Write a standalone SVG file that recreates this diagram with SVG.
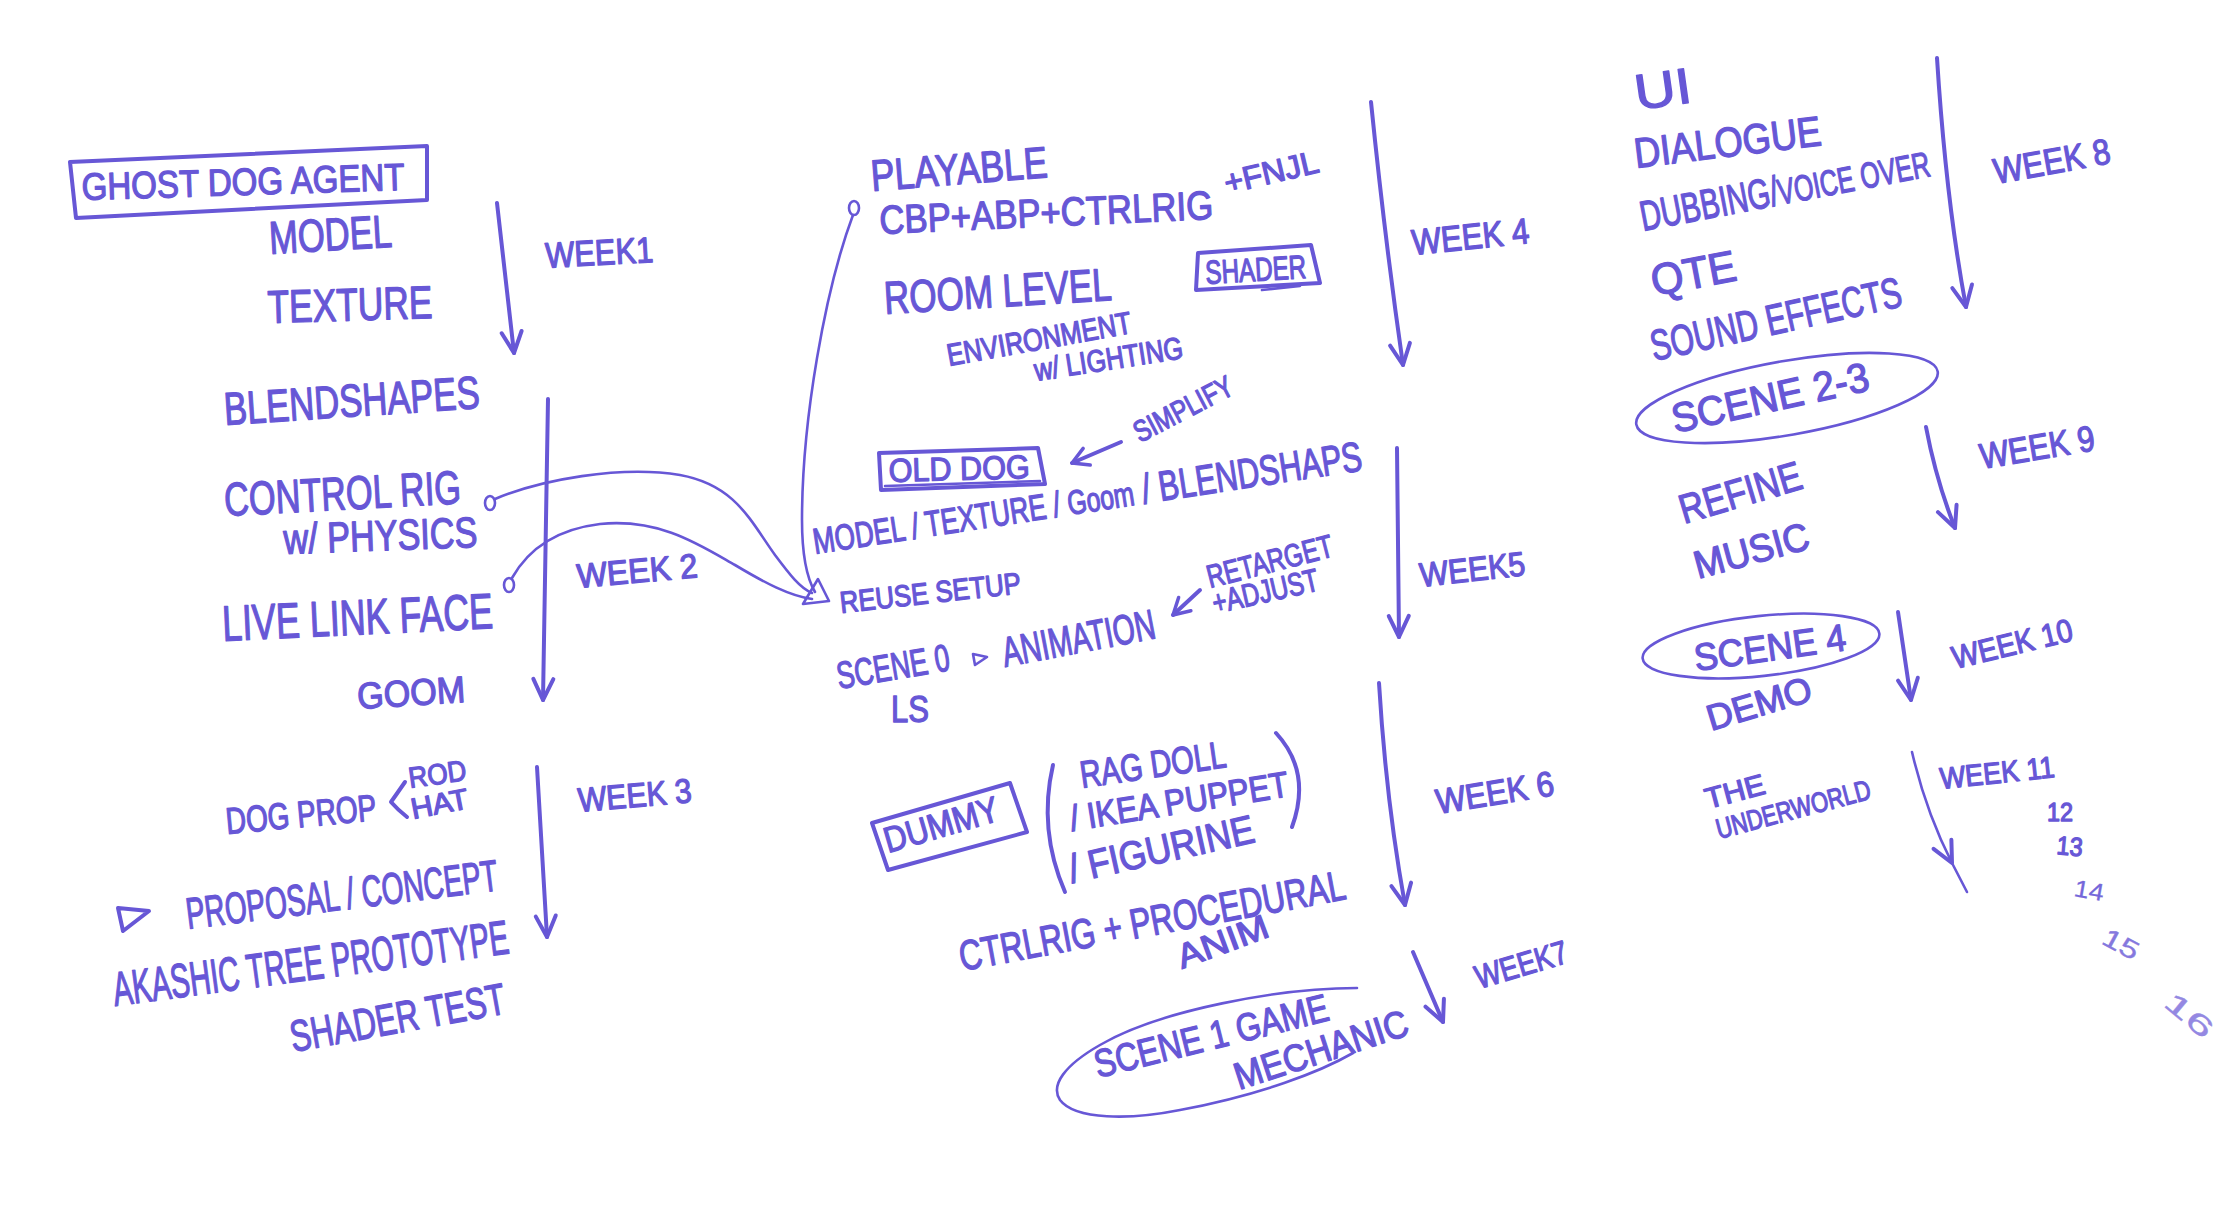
<svg xmlns="http://www.w3.org/2000/svg" width="2232" height="1209" viewBox="0 0 2232 1209">
<style>
text{font-family:"Liberation Sans","DejaVu Sans",Arial,sans-serif;fill:#6757d6;stroke:#6757d6;stroke-width:1.3;stroke-linejoin:round;}
text.lt{stroke-width:0.3}
.ln{fill:none;stroke:#6757d6;stroke-width:4;stroke-linecap:round;stroke-linejoin:round}
.th{stroke-width:2.6}
.ar{marker-end:url(#ah)}
.as{marker-end:url(#ahs)}
</style>
<defs>
<marker id="ah" markerUnits="userSpaceOnUse" viewBox="-26 -16 30 32" refX="0" refY="0" markerWidth="30" markerHeight="32" orient="auto"><path d="M-21,-10 L0,0 L-21,10" fill="none" stroke="#6757d6" stroke-width="4" stroke-linecap="round" stroke-linejoin="round"/></marker>
<marker id="ahs" markerUnits="userSpaceOnUse" viewBox="-20 -12 24 24" refX="0" refY="0" markerWidth="24" markerHeight="24" orient="auto"><path d="M-16,-9 L0,0 L-16,9" fill="none" stroke="#6757d6" stroke-width="3.5" stroke-linecap="round" stroke-linejoin="round"/></marker>
</defs>
<rect width="2232" height="1209" fill="#ffffff"/>

<g id="connectors">
<path class="ln ar" d="M497,203 L514,353"/>
<path class="ln ar" d="M548,399 L543,700"/>
<path class="ln ar" d="M537,767 L547,937"/>
<path class="ln ar" d="M1371,102 Q1385,240 1403,365"/>
<path class="ln ar" d="M1397,448 L1399,637"/>
<path class="ln ar" d="M1379,683 Q1386,800 1405,905"/>
<path class="ln ar" d="M1413,952 L1443,1022"/>
<path class="ln ar" d="M1937,58 Q1946,200 1966,307"/>
<path class="ln ar" d="M1926,427 Q1936,480 1955,528"/>
<path class="ln ar" d="M1898,612 L1911,700"/>
<path class="ln ar th" d="M1912,752 Q1926,812 1952,863"/>
<path class="ln th" d="M1952,863 L1967,892"/>
<path class="ln as" d="M1121,442 L1072,463"/>
<path class="ln as" d="M1200,590 L1173,615"/>
<path class="ln th" d="M495,499 C540,480 620,465 680,475 C735,485 750,520 775,555 C790,575 800,588 812,593"/>
<path class="ln th" d="M512,578 C525,555 550,530 600,524 C660,518 700,545 735,565 C765,583 790,596 812,599"/>
<path class="ln th" d="M853,215 C825,290 802,420 802,520 C802,560 808,580 815,592"/>
<polygon class="ln th" points="818,579 829,601 803,604" fill="#6757d6" fill-opacity="0.35"/>
<ellipse class="ln th" cx="490" cy="503" rx="5" ry="7"/>
<ellipse class="ln th" cx="509" cy="585" rx="5" ry="7"/>
<ellipse class="ln th" cx="854" cy="208" rx="5" ry="7"/>
</g>

<g id="ghost-dog-agent">
<polygon class="ln" points="70,162 427,146 427,200 76,218"/>
<text x="82" y="200" transform="rotate(-1.8 82 200)" font-size="38" textLength="323" lengthAdjust="spacingAndGlyphs">GHOST DOG AGENT</text>
</g>
<g id="model"><text x="270" y="254" transform="rotate(-3.3 270 254)" font-size="46" textLength="123" lengthAdjust="spacingAndGlyphs">MODEL</text></g>
<g id="texture"><text x="268" y="323" transform="rotate(-1.7 268 323)" font-size="46" textLength="165" lengthAdjust="spacingAndGlyphs">TEXTURE</text></g>
<g id="week1"><text x="546" y="268" transform="rotate(-3.2 546 268)" font-size="36" textLength="108" lengthAdjust="spacingAndGlyphs">WEEK1</text></g>
<g id="blendshapes"><text x="225" y="425" transform="rotate(-3.8 225 425)" font-size="46" textLength="256" lengthAdjust="spacingAndGlyphs">BLENDSHAPES</text></g>
<g id="control-rig"><text x="225" y="516" transform="rotate(-3.1 225 516)" font-size="47" textLength="237" lengthAdjust="spacingAndGlyphs">CONTROL RIG</text></g>
<g id="physics"><text x="284" y="554" transform="rotate(-2.1 284 554)" font-size="43" textLength="194" lengthAdjust="spacingAndGlyphs">w/ PHYSICS</text></g>
<g id="live-link-face"><text x="223" y="641" transform="rotate(-2.7 223 641)" font-size="50" textLength="271" lengthAdjust="spacingAndGlyphs">LIVE LINK FACE</text></g>
<g id="week2"><text x="578" y="588" transform="rotate(-5.2 578 588)" font-size="34" textLength="121" lengthAdjust="spacingAndGlyphs">WEEK 2</text></g>
<g id="goom"><text x="358" y="709" transform="rotate(-3.7 358 709)" font-size="37" textLength="108" lengthAdjust="spacingAndGlyphs">GOOM</text></g>
<g id="dog-prop">
<text x="227" y="834" transform="rotate(-5.3 227 834)" font-size="37" textLength="151" lengthAdjust="spacingAndGlyphs">DOG PROP</text>
<path class="ln" d="M405,782 Q396,795 391,802 Q398,810 407,817"/>
<text x="410" y="788" transform="rotate(-8 410 788)" font-size="29" textLength="58" lengthAdjust="spacingAndGlyphs">ROD</text>
<text x="413" y="819" transform="rotate(-11 413 819)" font-size="29" textLength="58" lengthAdjust="spacingAndGlyphs">HAT</text>
</g>
<g id="week3"><text x="579" y="812" transform="rotate(-5 579 812)" font-size="34" textLength="114" lengthAdjust="spacingAndGlyphs">WEEK 3</text></g>
<g id="proposal">
<polygon class="ln" points="118,908 149,911 123,931"/>
<text x="188" y="929" transform="rotate(-7.1 188 929)" font-size="44" textLength="314" lengthAdjust="spacingAndGlyphs">PROPOSAL / CONCEPT</text>
</g>
<g id="akashic"><text x="115" y="1006" transform="rotate(-7.6 115 1006)" font-size="48" textLength="399" lengthAdjust="spacingAndGlyphs">AKASHIC TREE PROTOTYPE</text></g>
<g id="shader-test"><text x="293" y="1052" transform="rotate(-10.3 293 1052)" font-size="44" textLength="218" lengthAdjust="spacingAndGlyphs">SHADER TEST</text></g>

<g id="playable"><text x="872" y="191" transform="rotate(-4.5 872 191)" font-size="44" textLength="177" lengthAdjust="spacingAndGlyphs">PLAYABLE</text></g>
<g id="cbp"><text x="880" y="234" transform="rotate(-2.6 880 234)" font-size="40" textLength="334" lengthAdjust="spacingAndGlyphs">CBP+ABP+CTRLRIG</text></g>
<g id="fnjl"><text x="1227" y="194" transform="rotate(-13.3 1227 194)" font-size="32" textLength="96" lengthAdjust="spacingAndGlyphs">+FNJL</text></g>
<g id="room-level"><text x="885" y="314" transform="rotate(-3.5 885 314)" font-size="46" textLength="228" lengthAdjust="spacingAndGlyphs">ROOM LEVEL</text></g>
<g id="shader">
<polygon class="ln" points="1198,253 1311,245 1320,283 1196,290"/>
<path class="ln th" d="M1262,290 L1300,286"/>
<text x="1206" y="284" transform="rotate(-3.4 1206 284)" font-size="33" textLength="101" lengthAdjust="spacingAndGlyphs">SHADER</text>
</g>
<g id="environment"><text x="949" y="366" transform="rotate(-10.2 949 366)" font-size="31" textLength="187" lengthAdjust="spacingAndGlyphs">ENVIRONMENT</text></g>
<g id="lighting"><text x="1036" y="381" transform="rotate(-8.8 1036 381)" font-size="31" textLength="150" lengthAdjust="spacingAndGlyphs">w/ LIGHTING</text></g>
<g id="week4"><text x="1413" y="255" transform="rotate(-5.9 1413 255)" font-size="36" textLength="118" lengthAdjust="spacingAndGlyphs">WEEK 4</text></g>
<g id="simplify"><text x="1140" y="443" transform="rotate(-27.5 1140 443)" font-size="30" textLength="108" lengthAdjust="spacingAndGlyphs">SIMPLIFY</text></g>
<g id="old-dog">
<polygon class="ln" points="879,453 1038,448 1045,484 881,490"/>
<path class="ln th" d="M885,486 L1040,481"/>
<text x="889" y="482" transform="rotate(-1.6 889 482)" font-size="33" textLength="141" lengthAdjust="spacingAndGlyphs">OLD DOG</text>
</g>
<g id="model-texture"><text x="815" y="554" transform="rotate(-8.7 815 554)" font-size="40" textLength="555" lengthAdjust="spacingAndGlyphs"><tspan font-size="36">MODEL / TEXTURE / </tspan><tspan font-size="34">Goom</tspan><tspan font-size="42"> / BLENDSHAPS</tspan></text></g>
<g id="reuse-setup"><text x="841" y="613" transform="rotate(-6.3 841 613)" font-size="30" textLength="182" lengthAdjust="spacingAndGlyphs">REUSE SETUP</text></g>
<g id="scene0">
<text x="839" y="689" transform="rotate(-9.6 839 689)" font-size="38" textLength="114" lengthAdjust="spacingAndGlyphs">SCENE 0</text>
<polygon class="ln th" points="973,654 987,657 975,665"/>
<text x="1005" y="667" transform="rotate(-10.8 1005 667)" font-size="42" textLength="155" lengthAdjust="spacingAndGlyphs">ANIMATION</text>
<text x="891" y="722" font-size="36" textLength="38" lengthAdjust="spacingAndGlyphs">LS</text>
</g>
<g id="retarget">
<text x="1210" y="588" transform="rotate(-14.4 1210 588)" font-size="32" textLength="129" lengthAdjust="spacingAndGlyphs">RETARGET</text>
<text x="1215" y="614" transform="rotate(-12.9 1215 614)" font-size="32" textLength="108" lengthAdjust="spacingAndGlyphs">+ADJUST</text>
</g>
<g id="week5"><text x="1421" y="587" transform="rotate(-6.5 1421 587)" font-size="34" textLength="106" lengthAdjust="spacingAndGlyphs">WEEK5</text></g>
<g id="dummy">
<polygon class="ln" points="872,823 1010,783 1027,832 888,870"/>
<text x="888" y="853" transform="rotate(-16.3 888 853)" font-size="36" textLength="118" lengthAdjust="spacingAndGlyphs">DUMMY</text>
</g>
<g id="dummy-options">
<path class="ln" d="M1053,765 Q1038,830 1065,892"/>
<path class="ln" d="M1276,733 Q1312,772 1292,827"/>
<text x="1082" y="788" transform="rotate(-8.2 1082 788)" font-size="38" textLength="147" lengthAdjust="spacingAndGlyphs">RAG DOLL</text>
<text x="1072" y="831" transform="rotate(-9.1 1072 831)" font-size="36" textLength="221" lengthAdjust="spacingAndGlyphs">/ IKEA PUPPET</text>
<text x="1072" y="883" transform="rotate(-12.6 1072 883)" font-size="40" textLength="189" lengthAdjust="spacingAndGlyphs">/ FIGURINE</text>
</g>
<g id="week6"><text x="1438" y="814" transform="rotate(-9.2 1438 814)" font-size="35" textLength="119" lengthAdjust="spacingAndGlyphs">WEEK 6</text></g>
<g id="ctrlrig-procedural">
<text x="962" y="971" transform="rotate(-10.6 962 971)" font-size="42" textLength="392" lengthAdjust="spacingAndGlyphs">CTRLRIG + PROCEDURAL</text>
<text x="1182" y="969" transform="rotate(-20.3 1182 969)" font-size="34" textLength="95" lengthAdjust="spacingAndGlyphs">ANIM</text>
</g>
<g id="week7"><text x="1479" y="989" transform="rotate(-16.5 1479 989)" font-size="33" textLength="95" lengthAdjust="spacingAndGlyphs">WEEK7</text></g>
<g id="scene1">
<path class="ln th" d="M1357,988 C1280,988 1160,1010 1100,1045 C1065,1065 1050,1085 1060,1100 C1075,1120 1130,1120 1180,1110 C1260,1095 1320,1072 1353,1053"/>
<text x="1098" y="1078" transform="rotate(-14 1098 1078)" font-size="39" textLength="240" lengthAdjust="spacingAndGlyphs">SCENE 1 GAME</text>
<text x="1239" y="1090" transform="rotate(-18 1239 1090)" font-size="38" textLength="181" lengthAdjust="spacingAndGlyphs">MECHANIC</text>
</g>

<g id="ui"><text x="1637" y="110" transform="rotate(-8 1637 110)" font-size="50" textLength="57" lengthAdjust="spacingAndGlyphs">UI</text></g>
<g id="dialogue"><text x="1636" y="168" transform="rotate(-7 1636 168)" font-size="42" textLength="188" lengthAdjust="spacingAndGlyphs">DIALOGUE</text></g>
<g id="dubbing"><text x="1643" y="231" transform="rotate(-10.8 1643 231)" font-size="40" textLength="294" lengthAdjust="spacingAndGlyphs"><tspan font-size="42">DUBBING/</tspan><tspan font-size="36">VOICE OVER</tspan></text></g>
<g id="qte"><text x="1654" y="296" transform="rotate(-10.7 1654 296)" font-size="44" textLength="86" lengthAdjust="spacingAndGlyphs">QTE</text></g>
<g id="sound-effects"><text x="1654" y="361" transform="rotate(-12.4 1654 361)" font-size="43" textLength="256" lengthAdjust="spacingAndGlyphs">SOUND EFFECTS</text></g>
<g id="week8"><text x="1996" y="184" transform="rotate(-10.3 1996 184)" font-size="36" textLength="118" lengthAdjust="spacingAndGlyphs">WEEK 8</text></g>
<g id="scene2-3">
<ellipse class="ln th" cx="1787" cy="398" rx="153" ry="37" transform="rotate(-10 1787 398)"/>
<text x="1675" y="433" transform="rotate(-12.4 1675 433)" font-size="41" textLength="201" lengthAdjust="spacingAndGlyphs">SCENE 2-3</text>
</g>
<g id="week9"><text x="1982" y="469" transform="rotate(-9.5 1982 469)" font-size="36" textLength="116" lengthAdjust="spacingAndGlyphs">WEEK 9</text></g>
<g id="refine"><text x="1684" y="524" transform="rotate(-16.6 1684 524)" font-size="41" textLength="126" lengthAdjust="spacingAndGlyphs">REFINE</text></g>
<g id="music"><text x="1698" y="579" transform="rotate(-15.2 1698 579)" font-size="39" textLength="118" lengthAdjust="spacingAndGlyphs">MUSIC</text></g>
<g id="scene4">
<ellipse class="ln th" cx="1761" cy="646" rx="119" ry="30" transform="rotate(-6 1761 646)"/>
<text x="1696" y="671" transform="rotate(-7.9 1696 671)" font-size="38" textLength="153" lengthAdjust="spacingAndGlyphs">SCENE 4</text>
</g>
<g id="week10"><text x="1955" y="669" transform="rotate(-13.6 1955 669)" font-size="32" textLength="123" lengthAdjust="spacingAndGlyphs">WEEK 10</text></g>
<g id="demo"><text x="1711" y="731" transform="rotate(-16.8 1711 731)" font-size="36" textLength="108" lengthAdjust="spacingAndGlyphs">DEMO</text></g>
<g id="underworld">
<text x="1708" y="809" transform="rotate(-15 1708 809)" font-size="29" textLength="61" lengthAdjust="spacingAndGlyphs">THE</text>
<text x="1719" y="839" transform="rotate(-14.9 1719 839)" font-size="28" textLength="159" lengthAdjust="spacingAndGlyphs">UNDERWORLD</text>
</g>
<g id="week11"><text x="1941" y="789" transform="rotate(-6 1941 789)" font-size="30" textLength="115" lengthAdjust="spacingAndGlyphs">WEEK 11</text></g>
<g id="week12"><text x="2047" y="821" font-size="26" textLength="26" lengthAdjust="spacingAndGlyphs">12</text></g>
<g id="week13"><text x="2056" y="854" transform="rotate(5 2056 854)" font-size="26" textLength="26" lengthAdjust="spacingAndGlyphs">13</text></g>
<g id="week14"><text class="lt" x="2073" y="896" transform="rotate(10 2073 896)" font-size="24" textLength="30" lengthAdjust="spacingAndGlyphs" opacity="0.9">14</text></g>
<g id="week15"><text class="lt" x="2100" y="943" transform="rotate(28 2100 943)" font-size="26" textLength="38" lengthAdjust="spacingAndGlyphs" opacity="0.8">15</text></g>
<g id="week16"><text class="lt" x="2162" y="1005" transform="rotate(40 2162 1005)" font-size="28" textLength="55" lengthAdjust="spacingAndGlyphs" opacity="0.7">16</text></g>
</svg>
